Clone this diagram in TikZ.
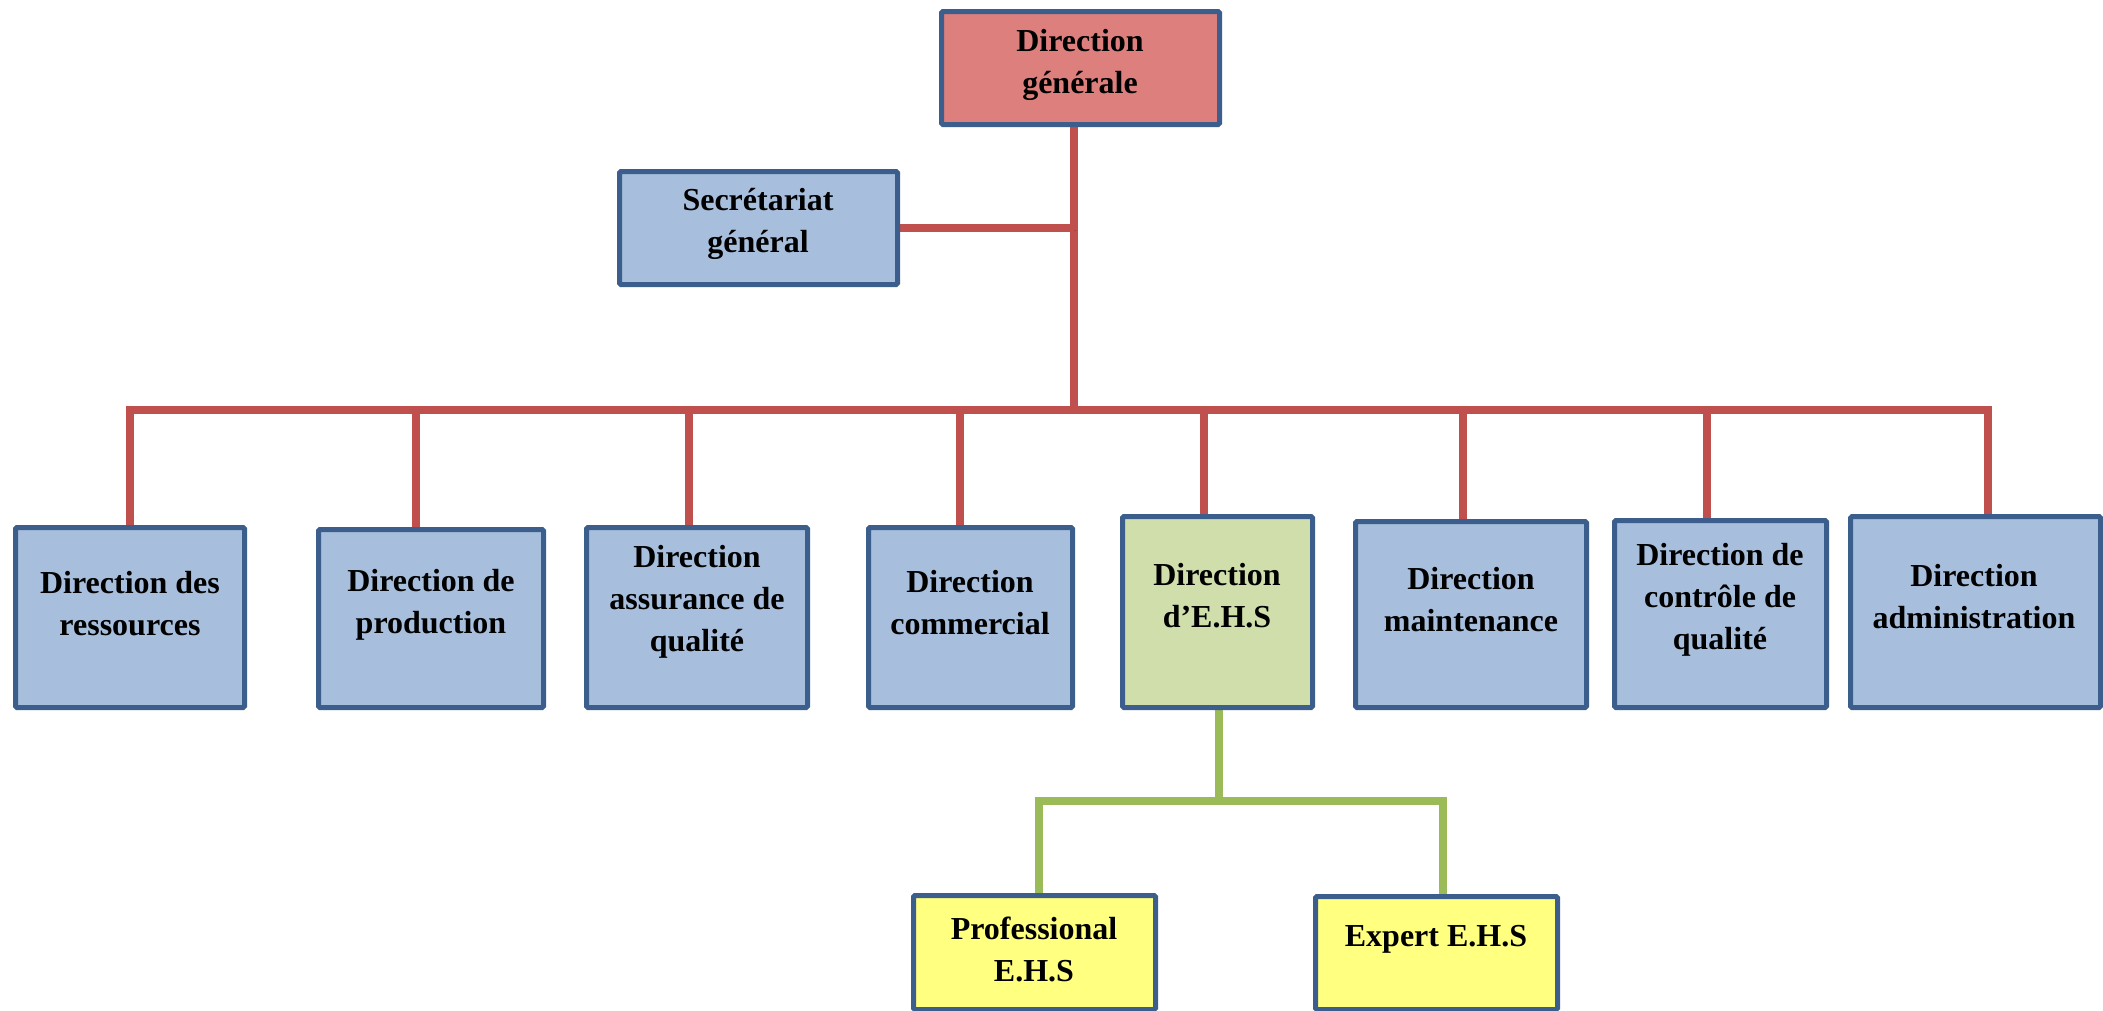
\documentclass[tikz,border=0pt]{standalone}
\usepackage{fontspec}
\setmainfont{Liberation Serif}
\usetikzlibrary{calc}
\pgfdeclarelayer{bg}
\pgfsetlayers{bg,main}

\definecolor{frame}{RGB}{59,94,140}
\definecolor{bluefill}{RGB}{167,191,221}
\definecolor{redfill}{RGB}{221,127,125}
\definecolor{greenfill}{RGB}{207,222,171}
\definecolor{yellowfill}{RGB}{255,255,128}
\definecolor{redwire}{RGB}{192,80,77}
\definecolor{greenwire}{RGB}{155,187,89}

\tikzset{
  box/.style={draw=frame, line width=5pt, rounded corners=1.5pt, inner sep=0pt},
  bluebox/.style={box, fill=bluefill},
  redbox/.style={box, fill=redfill},
  greenbox/.style={box, fill=greenfill},
  yellowbox/.style={box, fill=yellowfill},
  lbl/.style={align=center, inner sep=0pt,
    font=\fontsize{32}{42}\selectfont\bfseries},
  wire/.style={line width=8pt,
    preaction={draw=black, opacity=0.15,
      transform canvas={xshift=1.5pt, yshift=-2.5pt}}},
  redline/.style={wire, draw=redwire},
  greenline/.style={wire, draw=greenwire},
}

\begin{document}
\begin{tikzpicture}[x=1pt, y=-1pt]
\useasboundingbox (0,0) rectangle (2103,1010);

% boxes (outer frame size minus the frame width)
\node[redbox, minimum width=278pt, minimum height=113pt] (dg) at (1080.5,68) {};
\node[bluebox, minimum width=278pt, minimum height=113pt] (sec) at (758.5,228) {};

\node[bluebox, minimum width=229pt, minimum height=180pt] (b1) at (130,617.5) {};
\node[bluebox, minimum width=225pt, minimum height=178pt] (b2) at (431,618.5) {};
\node[bluebox, minimum width=221pt, minimum height=180pt] (b3) at (697,617.5) {};
\node[bluebox, minimum width=204pt, minimum height=180pt] (b4) at (970.5,617.5) {};
\node[greenbox, minimum width=190pt, minimum height=191pt] (b5) at (1217.5,612) {};
\node[bluebox, minimum width=231pt, minimum height=186pt] (b6) at (1471,614.5) {};
\node[bluebox, minimum width=212pt, minimum height=187pt] (b7) at (1720.5,614) {};
\node[bluebox, minimum width=250pt, minimum height=191pt] (b8) at (1975.5,612) {};

\node[yellowbox, minimum width=242pt, minimum height=114pt] (prof) at (1034.5,952.5) {};
\node[yellowbox, minimum width=242pt, minimum height=113pt] (expert) at (1436.5,953) {};

% labels
\node[lbl] (dgt) at (1080,65) {Direction\\générale};
\node[lbl] (sect) at (758,224) {Secrétariat\\général};
\node[lbl] (b1t) at (130,604) {Direction des\\ressources};
\node[lbl] (b2t) at (431,605) {Direction de\\production};
\node[lbl] (b3t) at (697,602) {Direction\\assurance de\\qualité};
\node[lbl] (b4t) at (970,603) {Direction\\commercial};
\node[lbl] (b5t) at (1217,596) {Direction\\d’E.H.S};
\node[lbl] (b6t) at (1471,600) {Direction\\maintenance};
\node[lbl] (b7t) at (1720,600) {Direction de\\contrôle de\\qualité};
\node[lbl] (b8t) at (1974,597) {Direction\\administration};
\node[lbl] (proft) at (1034,949) {Professional\\E.H.S};
\node[lbl] (expertt) at (1436,939) {Expert E.H.S};

% junction points on the distribution bars
\coordinate (trunk) at (1074,410);
\coordinate (d1) at (130,410);
\coordinate (d2) at (416,410);
\coordinate (d3) at (689,410);
\coordinate (d4) at (960,410);
\coordinate (d5) at (1204,410);
\coordinate (d6) at (1463,410);
\coordinate (d7) at (1707,410);
\coordinate (d8) at (1988,410);
\coordinate (g) at (1219,801);
\coordinate (gl) at (1039,801);
\coordinate (gr) at (1443,801);

\begin{pgfonlayer}{bg}
  % general management
  \draw[redline] (dg.south -| trunk) -- (trunk);
  \draw[redline] (sec.east) -- (sec.east -| trunk);
  \draw[redline] (d1 |- b1.north) -- (d1) -- (d8) -- (d8 |- b8.north);
  \draw[redline] (d2) -- (d2 |- b2.north);
  \draw[redline] (d3) -- (d3 |- b3.north);
  \draw[redline] (d4) -- (d4 |- b4.north);
  \draw[redline] (d5) -- (d5 |- b5.north);
  \draw[redline] (d6) -- (d6 |- b6.north);
  \draw[redline] (d7) -- (d7 |- b7.north);
  % E.H.S department
  \draw[greenline] (b5.south -| g) -- (g);
  \draw[greenline] (gl |- prof.north) -- (gl) -- (gr) -- (gr |- expert.north);
\end{pgfonlayer}
\end{tikzpicture}
\end{document}
